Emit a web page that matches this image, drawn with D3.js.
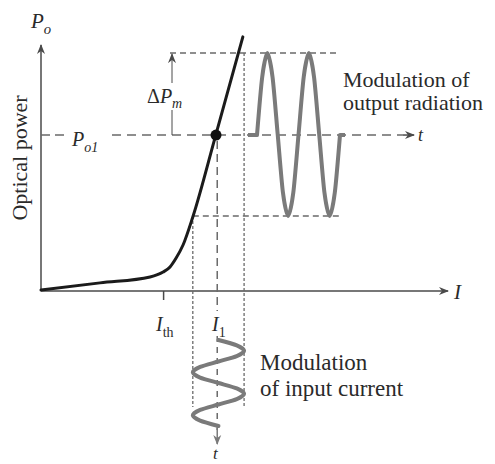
<!DOCTYPE html>
<html>
<head>
<meta charset="utf-8">
<script src="https://cdn.jsdelivr.net/npm/d3@7"></script>
<style>
  body { margin: 0; background: #fff; }
  svg text { font-family: "Liberation Serif", "Tinos", "DejaVu Serif", "Noto Serif", serif; fill: #2a2a2a; }
</style>
</head>
<body>
<div id="chart"></div>
<script>
// L-I curve of a laser diode (current I vs optical power Po), arbitrary units 0..100
const CURVE_I = [0, 14.5, 26.8, 30.0, 31.7, 33.2, 34.9, 37.3, 43.0, 49.6];
const CURVE_P = [0.4, 3.3, 5.7, 7.7, 9.8, 13.4, 18.7, 30.1, 63.8, 103.3];

const I_TH = 30;
const I_1 = 43.3;
const I_MIN = 37.3;
const I_MAX = 49.9;
const P_O1 = 63.4;
const P_MAX = 96.7;
const P_MIN = 30.5;

// output radiation, time in periods
const OUT_T = [0, 0.125, 0.25, 0.375, 0.5, 0.625, 0.75, 0.875, 1, 1.125, 1.25, 1.375, 1.5, 1.625, 1.75, 1.875, 2];
const OUT_P = [63.4, 86.9, 96.7, 86.9, 63.4, 40.0, 30.5, 40.0, 63.4, 86.9, 96.7, 86.9, 63.4, 40.0, 30.5, 40.0, 63.4];

// input current, time in periods
const IN_T = [0, 0.125, 0.25, 0.375, 0.5, 0.625, 0.75, 0.875, 1, 1.125, 1.25, 1.375, 1.5, 1.625, 1.75, 1.875, 2];
const IN_I = [43.6, 48.1, 49.9, 48.1, 43.6, 39.1, 37.3, 39.1, 43.6, 48.1, 49.9, 48.1, 43.6, 39.1, 37.3, 39.1, 43.6];

const W = 495, H = 464;
const AXIS = '#4a4a4a', DASH = '#6a6a6a', WAVE = '#7a7a7a';
const SERIF = '"Liberation Serif", "Tinos", "DejaVu Serif", "Noto Serif", serif';

const svg = d3.select('#chart').append('svg').attr('width', W).attr('height', H);

const defs = svg.append('defs');
const arrow = (id, color) => defs.append('marker')
  .attr('id', id).attr('viewBox', '0 0 10 10')
  .attr('refX', 9).attr('refY', 5)
  .attr('markerWidth', 10).attr('markerHeight', 10)
  .attr('markerUnits', 'userSpaceOnUse')
  .attr('orient', 'auto')
  .append('path').attr('d', 'M0,1 L10,5 L0,9 L3,5 Z').attr('fill', color);
arrow('ah', AXIS);
arrow('ah-wave', WAVE);

const x = d3.scaleLinear().domain([0, 100]).range([41, 448]);
const y = d3.scaleLinear().domain([0, 100]).range([291, 45]);
const tOut = d3.scaleLinear().domain([0, 2]).range([257, 340]);
const tIn = d3.scaleLinear().domain([0, 2]).range([340, 426]);

const seg = (x1, y1, x2, y2) => svg.append('line')
  .attr('x1', x1).attr('y1', y1).attr('x2', x2).attr('y2', y2);

// ─── AXES ───
seg(x(0), y(0), x(0), y(100)).attr('stroke', AXIS).attr('stroke-width', 1.5).attr('marker-end', 'url(#ah)');
seg(x(0), y(0), x(100), y(0)).attr('stroke', AXIS).attr('stroke-width', 1.5).attr('marker-end', 'url(#ah)');

const xAxis = svg.append('g').attr('transform', `translate(0,${y(0)})`)
  .call(d3.axisBottom(x).tickValues([I_TH]).tickSize(9).tickFormat(''));
xAxis.select('.domain').remove();
xAxis.selectAll('line').attr('stroke', AXIS).attr('stroke-width', 1.5);

// ─── DASHED GUIDES ───
const dashed = (sel, pattern) => sel.attr('stroke', DASH).attr('stroke-width', 1.5).attr('stroke-dasharray', pattern);

// Po1 level / output time axis (broken around the label)
dashed(seg(x(0), y(P_O1), 67, y(P_O1)), '9,5');
dashed(seg(112, y(P_O1), 403, y(P_O1)), '9,6');
seg(403, y(P_O1), 414, y(P_O1)).attr('stroke', AXIS).attr('stroke-width', 1.5).attr('marker-end', 'url(#ah)');

// top and bottom of output swing
dashed(seg(170, y(P_MAX), tOut(2), y(P_MAX)), '6,4');
dashed(seg(x(I_MIN), y(P_MIN), tOut(2), y(P_MIN)), '6,4');

// current swing limits
dashed(seg(x(I_MAX), y(P_MAX), x(I_MAX), 407), '3,2').attr('stroke-width', 1.3);
dashed(seg(x(I_MIN), y(P_MIN), x(I_MIN), 407), '3,2').attr('stroke-width', 1.3);

// I1 bias line and input time axis
dashed(seg(x(I_1), y(P_O1) + 6, x(I_1), 311), '8,5');
dashed(seg(x(I_1), 336, x(I_1), 430), '6,5');
seg(x(I_1), 428, x(I_1), 444).attr('stroke', WAVE).attr('stroke-width', 1.5).attr('marker-end', 'url(#ah-wave)');

// ΔPm arrow
seg(172, y(P_O1), 172, 110).attr('stroke', AXIS).attr('stroke-width', 1);
seg(172, 83, 172, y(P_MAX) + 1).attr('stroke', AXIS).attr('stroke-width', 1).attr('marker-end', 'url(#ah)');

// ─── CURVE ───
const curvePts = CURVE_I.map((v, i) => [v, CURVE_P[i]]);
svg.append('path')
  .attr('d', d3.line().x(d => x(d[0])).y(d => y(d[1])).curve(d3.curveMonotoneX)(curvePts))
  .attr('fill', 'none').attr('stroke', '#1b1b1b').attr('stroke-width', 3).attr('stroke-linecap', 'round');

svg.append('circle').attr('cx', x(43.0)).attr('cy', y(P_O1)).attr('r', 5.5).attr('fill', '#111');

// ─── WAVES ───
const outPts = OUT_T.map((t, i) => [t, OUT_P[i]]);
const outLine = d3.line().x(d => tOut(d[0])).y(d => y(d[1])).curve(d3.curveCardinal.tension(0.2));
svg.append('path')
  .attr('d', `M${tOut(0) - 9},${y(P_O1)}L` + outLine(outPts).slice(1) + `L${tOut(2) + 5},${y(P_O1)}`)
  .attr('fill', 'none').attr('stroke', WAVE).attr('stroke-width', 4).attr('stroke-linejoin', 'round');

const inPts = IN_T.map((t, i) => [t, IN_I[i]]);
svg.append('path')
  .attr('d', d3.line().x(d => x(d[1])).y(d => tIn(d[0])).curve(d3.curveCardinal.tension(0.2))(inPts))
  .attr('fill', 'none').attr('stroke', WAVE).attr('stroke-width', 4).attr('stroke-linecap', 'round');

// ─── LABELS ───
const label = (tx, ty, size) => svg.append('text').attr('x', tx).attr('y', ty)
  .attr('font-family', SERIF).attr('font-size', size);
const subLabel = (tx, ty, main, sub, size, italicSub) => {
  const t = label(tx, ty, size).attr('font-style', 'italic');
  t.append('tspan').text(main);
  t.append('tspan').attr('dy', size * 0.28).attr('font-size', size * 0.7)
    .attr('font-style', italicSub ? 'italic' : 'normal').text(sub);
  return t;
};

subLabel(31, 28, 'P', 'o', 21, true);
svg.append('text')
  .attr('transform', 'translate(27,158) rotate(-90)')
  .attr('font-family', SERIF)
  .attr('text-anchor', 'middle').attr('font-size', 22).text('Optical power');

subLabel(72, 146, 'P', 'o1', 20, true);
const dp = label(147, 103, 20);
dp.append('tspan').text('Δ');
dp.append('tspan').attr('font-style', 'italic').text('P');
dp.append('tspan').attr('dy', 5).attr('font-size', 14).attr('font-style', 'italic').text('m');

subLabel(156, 331, 'I', 'th', 20, false);
subLabel(212, 331, 'I', '1', 20, false);
label(454, 299, 21).attr('font-style', 'italic').text('I');
label(418, 141, 18).attr('font-style', 'italic').text('t');
label(213, 459, 17).attr('font-style', 'italic').text('t');

label(343, 87, 22).text('Modulation of');
label(343, 110, 22).text('output radiation');
label(260, 370, 23).text('Modulation');
label(260, 396, 23).text('of input current');
</script>
</body>
</html>
